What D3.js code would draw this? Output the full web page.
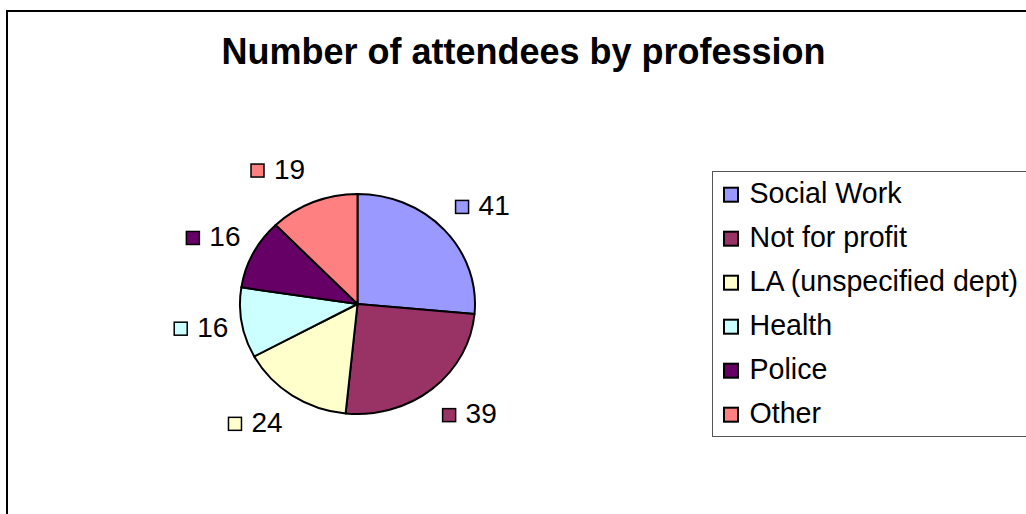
<!DOCTYPE html>
<html>
<head>
<meta charset="utf-8">
<script src="https://cdn.jsdelivr.net/npm/d3@7"></script>
<style>
  html, body { margin: 0; padding: 0; background: #fff; overflow: hidden; }
  svg { display: block; }
  text { font-family: "Liberation Sans", Arial, sans-serif; fill: #000; }
</style>
</head>
<body>
<svg id="chart" width="1026" height="514"></svg>
<script>
// ---- data ----
const title = "Number of attendees by profession";
const categories = ["Social Work", "Not for profit", "LA (unspecified dept)", "Health", "Police", "Other"];
const values = [41, 39, 24, 16, 16, 19];
const colors = ["#9999FF", "#993366", "#FFFFCC", "#CCFFFF", "#660066", "#FF8080"];

// ---- layout ----
const W = 1026, H = 514;
const cx = 357.5, cy = 304, rx = 117.5, ry = 110;
const svg = d3.select("#chart");

// chart area border (extends past the right / bottom edge)
svg.append("rect")
  .attr("x", 7).attr("y", 11).attr("width", W + 50).attr("height", H + 50)
  .attr("fill", "#fff").attr("stroke", "#000").attr("stroke-width", 2);

// title
svg.append("text")
  .attr("x", 523.5).attr("y", 63.5)
  .attr("text-anchor", "middle")
  .style("font-size", "36px").style("font-weight", "bold")
  .text(title);

// pie
const pie = d3.pie().sort(null).value(d => d)(values);
const arc = d3.arc().innerRadius(0).outerRadius(ry);
const g = svg.append("g")
  .attr("transform", `translate(${cx},${cy}) scale(${rx / ry},1)`);
g.selectAll("path").data(pie).join("path")
  .attr("d", arc)
  .attr("fill", (d, i) => colors[i])
  .attr("stroke", "#000").attr("stroke-width", 2)
  .attr("vector-effect", "non-scaling-stroke")
  .attr("stroke-linejoin", "round");

// data labels (marker + value), placed along the mid-angle outside the pie
const labRx = 126, labRy = 144, mk = 13, gap = 10;
const labels = svg.append("g");
pie.forEach((d, i) => {
  const a = (d.startAngle + d.endAngle) / 2;
  const s = Math.sin(a), c = -Math.cos(a);
  const lg = labels.append("g");
  const t = lg.append("text").style("font-size", "28px").text(values[i]);
  const tw = t.node().getComputedTextLength();
  const w = mk + gap + tw;
  const bx = cx + s * labRx + Math.sign(s) * (w / 2 + 5);
  const by = cy + c * labRy;
  const left = bx - w / 2;
  lg.insert("rect", "text")
    .attr("x", left).attr("y", by - mk / 2)
    .attr("width", mk).attr("height", mk)
    .attr("fill", colors[i]).attr("stroke", "#000").attr("stroke-width", 1.5);
  t.attr("x", left + mk + gap).attr("y", by + 8);
});

// legend
const lx = 712.5, ly = 171.5, rowH = 44;
svg.append("rect")
  .attr("x", lx).attr("y", ly).attr("width", 400).attr("height", 265)
  .attr("fill", "#fff").attr("stroke", "#555").attr("stroke-width", 1);
const leg = svg.append("g");
categories.forEach((name, i) => {
  const base = 202.7 + i * rowH;
  leg.append("rect")
    .attr("x", 724).attr("y", base - 15)
    .attr("width", 14).attr("height", 14)
    .attr("fill", colors[i]).attr("stroke", "#000").attr("stroke-width", 2);
  leg.append("text")
    .attr("x", 749.5).attr("y", base)
    .style("font-size", "28.6px")
    .text(name);
});
</script>
</body>
</html>
